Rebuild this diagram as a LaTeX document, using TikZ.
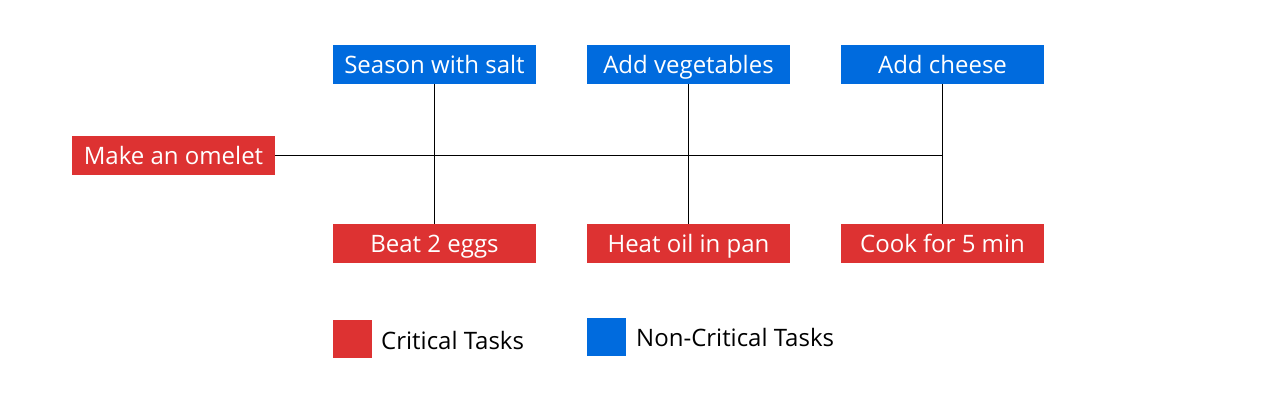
\documentclass[tikz,border=0pt]{standalone}
\usepackage{fontspec}
\setmainfont{Open Sans}
\definecolor{crit}{RGB}{221,50,50}
\definecolor{noncrit}{RGB}{0,107,222}
\begin{document}
\begin{tikzpicture}[x=1pt,y=-1pt,
  task/.style={rectangle,minimum width=203pt,minimum height=39pt,inner sep=0pt,
    text height=22pt,text depth=4pt,
    text=white,font=\fontsize{24}{28}\selectfont},
  crittask/.style={task,fill=crit},
  nctask/.style={task,fill=noncrit},
  link/.style={draw=black,line width=1pt},
  legsq/.style={rectangle,minimum width=39pt,minimum height=38pt,inner sep=0pt},
  legtxt/.style={anchor=west,inner sep=0pt,text height=22pt,text depth=4pt,
    font=\fontsize{24}{28}\selectfont}]
\useasboundingbox (0,0) rectangle (1280,400);
\node[crittask] (omelet) at (173.5,155.5) {Make an omelet};
\node[nctask] (season) at (434.5,64.5) {Season with salt};
\node[crittask] (beat) at (434.5,243.5) {Beat 2 eggs};
\node[nctask] (veg) at (688.5,64.5) {Add vegetables};
\node[crittask] (heat) at (688.5,243.5) {Heat oil in pan};
\node[nctask] (cheese) at (942.5,64.5) {Add cheese};
\node[crittask] (cook) at (942.5,243.5) {Cook for 5 min};
\coordinate (j) at (cheese.south |- omelet.east);
\draw[link] (season) -- (beat);
\draw[link] (veg) -- (heat);
\draw[link] (cheese) -- (cook);
\draw[link] (omelet.east) -- (j);
\node[legsq,fill=crit] (lc) at (352.5,339) {};
\node[legtxt] (lct) at (381,340.5) {Critical Tasks};
\node[legsq,fill=noncrit] (ln) at (606.5,337) {};
\node[legtxt] (lnt) at (636,337.5) {Non-Critical Tasks};
\end{tikzpicture}
\end{document}
